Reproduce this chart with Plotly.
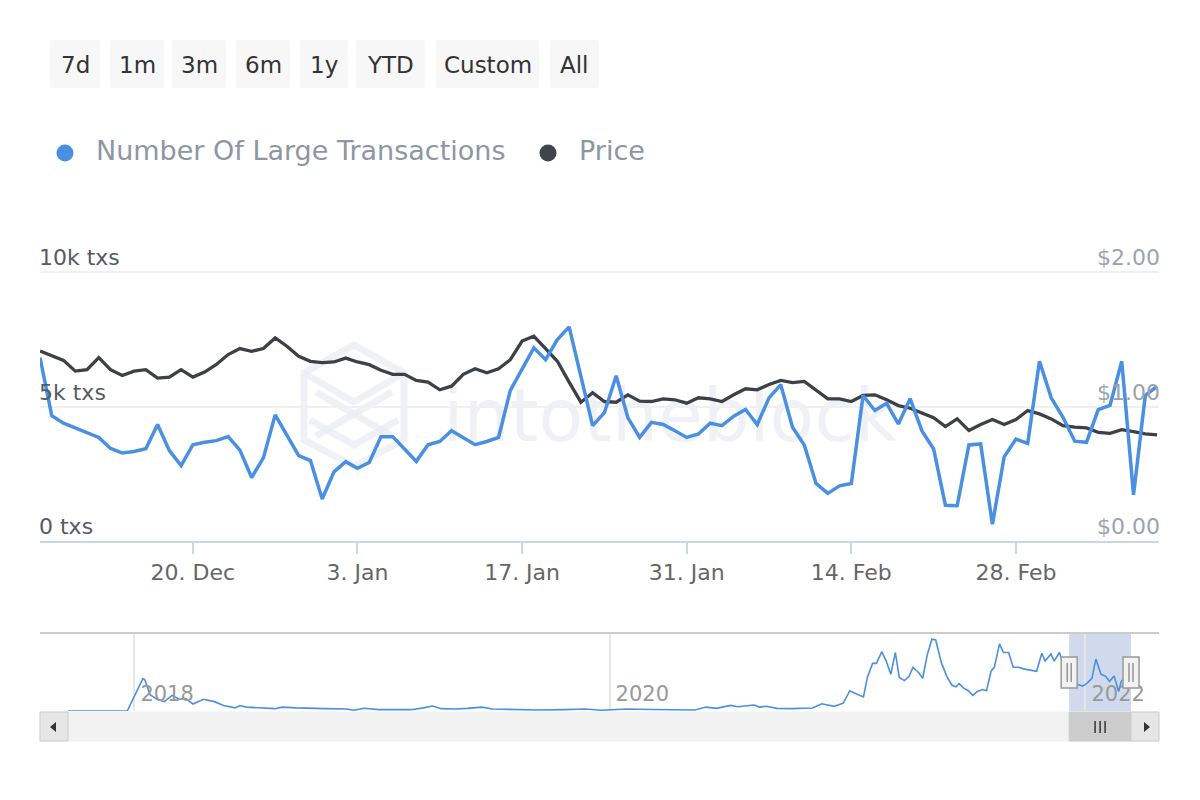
import plotly.graph_objects as go
import pandas as pd

# ---------------- data ----------------
start_date = "2021-12-07"

large_tx = [6820, 4660, 4380, 4200, 4040, 3850, 3440, 3270, 3330, 3430,
            4330, 3360, 2800, 3580, 3670, 3730, 3880, 3380, 2360, 3090,
            4690, 3920, 3170, 2990, 1560, 2570, 2950, 2700, 2920, 3880,
            3880, 3420, 2960, 3580, 3700, 4100, 3850, 3580, 3700, 3850,
            5600, 6390, 7180, 6740, 7490, 7960, 6100, 4290, 4770, 6140,
            4580, 3850, 4410, 4330, 4100, 3850, 3980, 4380, 4290, 4640,
            4890, 4330, 5320, 5810, 4230, 3570, 2140, 1770, 2050, 2140,
            5410, 4850, 5120, 4350, 5290, 4100, 3420, 1330, 1310, 3570,
            3610, 620, 3130, 3790, 3630, 6680, 5320, 4600, 3710, 3670,
            4880, 5040, 6680, 1720, 5410, 5750]

price = [1.413, 1.381, 1.343, 1.263, 1.274, 1.363, 1.274, 1.231, 1.263, 1.274,
         1.211, 1.219, 1.274, 1.219, 1.256, 1.313, 1.386, 1.431, 1.410, 1.431,
         1.510, 1.448, 1.373, 1.336, 1.326, 1.331, 1.360, 1.331, 1.311, 1.269,
         1.239, 1.239, 1.194, 1.181, 1.124, 1.151, 1.239, 1.281, 1.251, 1.281,
         1.348, 1.487, 1.522, 1.431, 1.336, 1.181, 1.032, 1.102, 1.037, 1.032,
         1.087, 1.040, 1.037, 1.057, 1.050, 1.025, 1.065, 1.057, 1.037, 1.087,
         1.132, 1.124, 1.164, 1.194, 1.177, 1.187, 1.119, 1.057, 1.057, 1.037,
         1.082, 1.087, 1.050, 1.007, 0.987, 0.950, 0.916, 0.851, 0.908, 0.821,
         0.866, 0.903, 0.866, 0.903, 0.970, 0.945, 0.908, 0.858, 0.846, 0.841,
         0.808, 0.801, 0.828, 0.813, 0.796, 0.789]

dates = pd.date_range(start_date, periods=len(large_tx), freq="D")

nav_dates = ["2017-09-21", "2017-12-21", "2018-01-14", "2018-01-17", "2018-01-25",
             "2018-02-05", "2018-02-16", "2018-02-28", "2018-03-11", "2018-03-21",
             "2018-04-01", "2018-04-17", "2018-05-04", "2018-05-18", "2018-06-05",
             "2018-06-12", "2018-06-22", "2018-07-20", "2018-08-05", "2018-08-16",
             "2018-09-07", "2018-10-21", "2018-11-23", "2018-12-04", "2018-12-20",
             "2019-01-11", "2019-02-08", "2019-03-02", "2019-03-21", "2019-04-04",
             "2019-04-17", "2019-05-09", "2019-05-28", "2019-06-19", "2019-07-05",
             "2019-08-07", "2019-09-14", "2019-10-23", "2019-11-25", "2019-12-20",
             "2020-01-28", "2020-03-06", "2020-04-03", "2020-05-11", "2020-05-28",
             "2020-06-13", "2020-07-05", "2020-07-16", "2020-08-10", "2020-08-18",
             "2020-08-29", "2020-09-14", "2020-10-06", "2020-11-08", "2020-11-22",
             "2020-12-11", "2020-12-25", "2021-01-04", "2021-01-11", "2021-01-25",
             "2021-01-31", "2021-02-08", "2021-02-14", "2021-02-22", "2021-03-01",
             "2021-03-08", "2021-03-15", "2021-03-21", "2021-03-29", "2021-04-05",
             "2021-04-11", "2021-04-20", "2021-04-26", "2021-05-03", "2021-05-10",
             "2021-05-16", "2021-05-25", "2021-06-02", "2021-06-10", "2021-06-16",
             "2021-06-21", "2021-06-27", "2021-07-05", "2021-07-12", "2021-07-19",
             "2021-07-27", "2021-08-02", "2021-08-09", "2021-08-14", "2021-08-22",
             "2021-08-28", "2021-09-05", "2021-09-12", "2021-09-20", "2021-09-28",
             "2021-10-18", "2021-10-26", "2021-10-31", "2021-11-09", "2021-11-14",
             "2021-11-22", "2021-12-05", "2021-12-20", "2021-12-28", "2022-01-04",
             "2022-01-11", "2022-01-17", "2022-01-25", "2022-02-01", "2022-02-07",
             "2022-02-14", "2022-02-21", "2022-02-25", "2022-03-05", "2022-03-12"]

nav_tx = [0, 0, 4150, 4000, 2100,
          1500, 1200, 2000, 1500, 1600,
          900, 1500, 1200, 700, 400,
          700, 500, 400, 300, 500,
          400, 300, 250, 100, 350,
          170, 130, 170, 400, 640,
          300, 250, 340, 500, 250,
          170, 130, 170, 250, 100,
          250, 200, 130, 130, 500,
          340, 720, 550, 760, 500,
          600, 340, 300, 380, 930,
          600, 1000, 2600, 2300, 1800,
          4300, 6100, 6100, 7600, 6400,
          4700, 7500, 4300, 3900, 4450,
          5600, 4900, 4200, 7200, 9200,
          9100, 6100, 4450, 3300, 3100,
          3500, 3000, 2600, 2000, 2500,
          2750, 2600, 5100, 5600, 8600,
          7500, 7500, 5600, 5600, 5400,
          5100, 7400, 6400, 7300, 6400,
          7500, 4000, 3400, 3200, 3600,
          4200, 6650, 4700, 4450, 3800,
          4500, 2500, 3800, 4500, 5000]

main_tickvals = ["2021-12-20", "2022-01-03", "2022-01-17", "2022-01-31", "2022-02-14", "2022-02-28"]
main_ticktext = ["20. Dec", "3. Jan", "17. Jan", "31. Jan", "14. Feb", "28. Feb"]
tx_tickvals = [0, 5000, 10000]
tx_ticktext = ["0 txs", "5k txs", "10k txs"]
price_tickvals = [0, 1, 2]
price_ticktext = ["$0.00", "$1.00", "$2.00"]
nav_tickvals = ["2018-01-01", "2020-01-01", "2022-01-01"]
nav_ticktext = ["2018", "2020", "2022"]
range_buttons = ["7d", "1m", "3m", "6m", "1y", "YTD", "Custom", "All"]
legend_names = ["Number Of Large Transactions", "Price"]

# ---------------- styling helpers ----------------
W, H = 1200, 800
FONT = "DejaVu Sans"
BLUE = "#4a90e2"
DARK = "#3d4147"


def X(px):
    return px / W


def Y(py):
    return 1 - py / H


def rounded_rect(x0, y0, x1, y1, r=3):
    return (f"M {X(x0 + r)} {Y(y0)} L {X(x1 - r)} {Y(y0)} "
            f"Q {X(x1)} {Y(y0)} {X(x1)} {Y(y0 + r)} L {X(x1)} {Y(y1 - r)} "
            f"Q {X(x1)} {Y(y1)} {X(x1 - r)} {Y(y1)} L {X(x0 + r)} {Y(y1)} "
            f"Q {X(x0)} {Y(y1)} {X(x0)} {Y(y1 - r)} L {X(x0)} {Y(y0 + r)} "
            f"Q {X(x0)} {Y(y0)} {X(x0 + r)} {Y(y0)} Z")


def poly(points, close=True):
    s = "M " + " L ".join(f"{X(a)} {Y(b)}" for a, b in points)
    return s + (" Z" if close else "")


# main plot vertical geometry: 0 at y=541px, 10k / $2 at y=272px.
# extend the axes a bit upward so the top tick labels (drawn above their gridline) fit inside.
PLOT_BOTTOM, PLOT_TOP_TICK = 541, 272
EXTRA = 1.12
plot_top = PLOT_BOTTOM - (PLOT_BOTTOM - PLOT_TOP_TICK) * EXTRA

fig = go.Figure()

fig.add_trace(go.Scatter(x=dates, y=price, name=legend_names[1], mode="lines",
                         line=dict(color=DARK, width=3.3), xaxis="x", yaxis="y",
                         showlegend=False))
fig.add_trace(go.Scatter(x=dates, y=large_tx, name=legend_names[0], mode="lines",
                         line=dict(color=BLUE, width=3.5), xaxis="x", yaxis="y2",
                         showlegend=False))
fig.add_trace(go.Scatter(x=nav_dates, y=nav_tx, name="navigator", mode="lines",
                         line=dict(color=BLUE, width=1.6), xaxis="x2", yaxis="y3",
                         showlegend=False, hoverinfo="skip"))

sel_start = dates[0]
sel_end = dates[-1]
sel_mid = sel_start + (sel_end - sel_start) / 2

shapes = []
annotations = []

# range selector buttons
btn_left = [50, 110, 172, 236, 300, 356, 436, 550]
btn_right = [100, 164, 226, 290, 348, 425, 539, 599]
for lbl, l, r in zip(range_buttons, btn_left, btn_right):
    shapes.append(dict(type="path", xref="paper", yref="paper", path=rounded_rect(l, 40, r, 88, 3),
                       fillcolor="#f7f7f7", line=dict(width=0)))
    annotations.append(dict(xref="paper", yref="paper", x=X((l + r) / 2), y=Y(65),
                            text=lbl, showarrow=False, xanchor="center", yanchor="middle",
                            font=dict(family=FONT, size=23, color="#333333")))

# legend
leg_items = [(legend_names[0], BLUE, 65, 94), (legend_names[1], "#40454b", 548, 577)]
for name, col, cx, tx in leg_items:
    shapes.append(dict(type="circle", xref="paper", yref="paper",
                       x0=X(cx - 8.5), x1=X(cx + 8.5), y0=Y(153 + 8.5), y1=Y(153 - 8.5),
                       fillcolor=col, line=dict(width=0)))
    annotations.append(dict(xref="paper", yref="paper", x=X(tx), y=Y(151), text=name,
                            showarrow=False, xanchor="left", yanchor="middle",
                            font=dict(family=FONT, size=27, color="#8c97a3")))

# watermark (logo + text), behind the series
wm = "rgba(232,235,244,0.7)"
wm_paths = [
    poly([(354, 345), (404, 373), (404, 440), (354, 466), (304, 440), (304, 373)]),
    poly([(304, 373), (354, 402), (404, 373)], close=False),
    poly([(310, 420), (354, 445), (398, 420)], close=False),
    poly([(316, 392), (392, 436)], close=False),
    poly([(392, 392), (316, 436)], close=False),
]
for p in wm_paths:
    shapes.append(dict(type="path", xref="paper", yref="paper", layer="below", path=p,
                       line=dict(color=wm, width=7), fillcolor="rgba(0,0,0,0)"))
shapes.append(dict(type="rect", xref="paper", yref="paper", layer="below",
                   x0=X(440), x1=X(900), y0=Y(455), y1=Y(365),
                   line=dict(width=0), fillcolor="rgba(0,0,0,0)",
                   label=dict(text="intotheblock", textposition="middle center",
                              font=dict(family=FONT, size=73, color=wm))))

# navigator outline (top line)
shapes.append(dict(type="line", xref="paper", yref="paper", x0=X(40), x1=X(1159), y0=Y(633), y1=Y(633),
                   line=dict(color="#cccccc", width=2)))
# navigator selected zone
shapes.append(dict(type="rect", xref="x2", yref="paper", x0=sel_start, x1=sel_end,
                   y0=Y(711), y1=Y(634), fillcolor="rgba(102,133,194,0.3)", line=dict(width=0),
                   layer="below"))
# navigator handles
for edge in (sel_start, sel_end):
    shapes.append(dict(type="rect", xref="x2", yref="paper", xsizemode="pixel", xanchor=edge,
                       x0=-8, x1=8, y0=Y(688), y1=Y(657), fillcolor="#f2f2f2",
                       line=dict(color="#999999", width=1.5)))
    for dx in (-2, 2):
        shapes.append(dict(type="line", xref="x2", yref="paper", xsizemode="pixel", xanchor=edge,
                           x0=dx, x1=dx, y0=Y(682), y1=Y(663), line=dict(color="#666666", width=1)))

# scrollbar
shapes.append(dict(type="rect", xref="paper", yref="paper", x0=X(40), x1=X(1159), y0=Y(741), y1=Y(712),
                   fillcolor="#f2f2f2", line=dict(color="#f2f2f2", width=1)))
shapes.append(dict(type="rect", xref="x2", yref="paper", x0=sel_start, x1=sel_end, y0=Y(741), y1=Y(712),
                   fillcolor="#cccccc", line=dict(color="#cccccc", width=1)))
for dx in (-5, 0, 5):
    shapes.append(dict(type="line", xref="x2", yref="paper", xsizemode="pixel", xanchor=sel_mid,
                       x0=dx, x1=dx, y0=Y(733), y1=Y(721), line=dict(color="#333333", width=1.5)))
for l, r in ((40, 68), (1131, 1159)):
    shapes.append(dict(type="rect", xref="paper", yref="paper", x0=X(l), x1=X(r), y0=Y(741), y1=Y(712),
                       fillcolor="#e6e6e6", line=dict(color="#cccccc", width=1)))
shapes.append(dict(type="path", xref="paper", yref="paper",
                   path=poly([(50, 727), (56, 722), (56, 732)]), fillcolor="#333333", line=dict(width=0)))
shapes.append(dict(type="path", xref="paper", yref="paper",
                   path=poly([(1150, 727), (1144, 722), (1144, 732)]), fillcolor="#333333", line=dict(width=0)))

fig.update_layout(
    width=W, height=H, autosize=False,
    margin=dict(l=0, r=0, t=0, b=0, pad=0),
    paper_bgcolor="white", plot_bgcolor="white",
    font=dict(family=FONT),
    showlegend=False,
    hovermode="x unified",
    xaxis=dict(
        domain=[X(40), X(1159)], anchor="y",
        range=["2021-12-07", "2022-03-12 04:00"],
        tickvals=main_tickvals, ticktext=main_ticktext,
        showline=True, linecolor="#ccd6eb", linewidth=2,
        ticks="outside", ticklen=11, tickwidth=2, tickcolor="#ccd6eb",
        tickfont=dict(family=FONT, size=22, color="#666666"),
        showgrid=False, zeroline=False, fixedrange=True,
    ),
    yaxis=dict(
        domain=[Y(PLOT_BOTTOM), Y(plot_top)], anchor="x", side="right",
        range=[0, 2 * EXTRA], tickvals=price_tickvals, ticktext=price_ticktext,
        ticklabelposition="inside top", ticklabelstandoff=-4, ticklabelshift=1,
        tickfont=dict(family=FONT, size=22, color="#9ba4ae"),
        showgrid=True, gridcolor="#f0f0f0", gridwidth=2,
        zeroline=False, showline=False, ticks="", fixedrange=True,
    ),
    yaxis2=dict(
        overlaying="y", anchor="x", side="left",
        range=[0, 10000 * EXTRA], tickvals=tx_tickvals, ticktext=tx_ticktext,
        ticklabelposition="inside top", ticklabelstandoff=-4, ticklabelshift=1,
        tickfont=dict(family=FONT, size=22, color="#555b63"),
        showgrid=False, zeroline=False, showline=False, ticks="", fixedrange=True,
    ),
    xaxis2=dict(
        domain=[X(40), X(1159)], anchor="y3",
        range=["2017-08-09", "2022-04-24"],
        tickvals=nav_tickvals, ticktext=nav_ticktext,
        ticklabelposition="inside right", ticklabelshift=6,
        tickfont=dict(family=FONT, size=21, color="#999999"),
        showgrid=True, gridcolor="#e6e6e6", gridwidth=1.5,
        showline=False, zeroline=False, ticks="", fixedrange=True,
    ),
    yaxis3=dict(
        domain=[Y(711), Y(633)], anchor="x2", range=[0, 10000],
        visible=False, fixedrange=True,
    ),
    shapes=shapes,
    annotations=annotations,
)

fig.write_html("out.html",
               config={"displayModeBar": False},
               post_script="document.body.style.margin='0';document.body.style.overflow='hidden';")
